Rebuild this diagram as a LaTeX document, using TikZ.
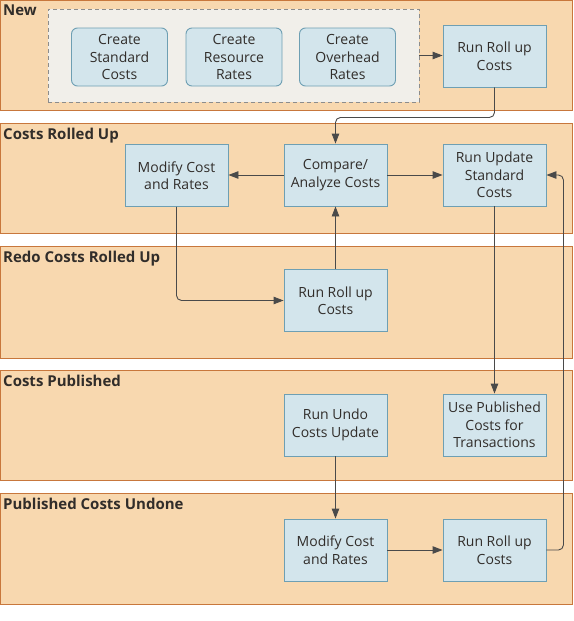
\documentclass[tikz,border=0pt]{standalone}
\usepackage{fontspec}
\setmainfont{Open Sans}
\usetikzlibrary{arrows.meta}

\definecolor{lanefill}{HTML}{F8D8AF}
\definecolor{laneline}{HTML}{C8773C}
\definecolor{boxfill}{HTML}{D3E5EC}
\definecolor{boxline}{HTML}{6E9FB3}
\definecolor{groupfill}{HTML}{F1EFEA}
\definecolor{groupline}{HTML}{8C8C8C}
\definecolor{inkgray}{HTML}{312D2A}
\definecolor{flowgray}{HTML}{4A4A4A}

\tikzset{
	lane/.style={draw=laneline, fill=lanefill, line width=0.9pt},
	lanetitle/.style={anchor=north west, inner sep=0pt, font=\fontsize{15}{17}\selectfont\bfseries},
	taskbox/.style={draw=boxline, fill=boxfill, line width=0.9pt, align=center, minimum width=103pt, minimum height=62pt, inner sep=2pt},
	createbox/.style={taskbox, rounded corners=6pt, minimum width=96pt, minimum height=58pt},
	groupbox/.style={draw=groupline, fill=groupfill, dash pattern=on 4pt off 3pt, line width=0.8pt, minimum width=371pt, minimum height=93pt},
	flow/.style={draw=flowgray, line width=0.9pt, rounded corners=5pt, -{Triangle[length=10pt,width=7.5pt]}}
}

\begin{document}
\begin{tikzpicture}[x=1pt, y=-1pt, every node/.style={font=\fontsize{14}{17.5}\selectfont, text=inkgray}]
	\useasboundingbox (0,0) rectangle (573,621);
	% swim lanes
	\draw[lane] (0,0) rectangle (572,110);
	\draw[lane] (0,123) rectangle (572,233);
	\draw[lane] (0,246) rectangle (572,358);
	\draw[lane] (0,370) rectangle (572,480);
	\draw[lane] (0,493) rectangle (572,604);
	\node[lanetitle] (tnew) at (3,5) {New};
	\node[lanetitle] (trolled) at (3,128) {Costs Rolled Up};
	\node[lanetitle] (tredo) at (3,251) {Redo Costs Rolled Up};
	\node[lanetitle] (tpub) at (3,375) {Costs Published};
	\node[lanetitle] (tundone) at (3,498) {Published Costs Undone};

	% new
	\node[groupbox] (group) at (233.5,55.5) {};
	\node[createbox] (cstd) at (119.5,57) {Create\\Standard\\Costs};
	\node[createbox] (cres) at (234,57) {Create\\Resource\\Rates};
	\node[createbox] (cover) at (347.5,57) {Create\\Overhead\\Rates};
	\node[taskbox] (roll1) at (494.5,56) {Run Roll up\\Costs};

	% costs rolled up
	\node[taskbox] (modify2) at (176.5,175.5) {Modify Cost\\and Rates};
	\node[taskbox] (compare) at (335.5,175) {Compare/\\Analyze Costs};
	\node[taskbox] (update) at (494.5,175) {Run Update\\Standard\\Costs};

	% redo costs rolled up
	\node[taskbox] (roll3) at (335.5,300.5) {Run Roll up\\Costs};

	% costs published
	\node[taskbox] (undo) at (335.5,425) {Run Undo\\Costs Update};
	\node[taskbox] (usepub) at (494.5,425) {Use Published\\Costs for\\Transactions};

	% published costs undone
	\node[taskbox] (modify5) at (335.5,550) {Modify Cost\\and Rates};
	\node[taskbox] (roll5) at (494.5,550) {Run Roll up\\Costs};

	% connectors
	\draw[flow] (group.east) -- (roll1.west |- group.east);
	\draw[flow] (roll1.south) -- ++(0,30) -| (compare.north);
	\draw[flow] (compare.west) -- (modify2.east |- compare.west);
	\draw[flow] (compare.east) -- (update.west);
	\draw[flow] (modify2.south) |- (roll3.west);
	\draw[flow] (roll3.north) -- (compare.south);
	\draw[flow] (update.south) -- (usepub.north);
	\draw[flow] (undo.south) -- (modify5.north);
	\draw[flow] (modify5.east) -- (roll5.west);
	\draw[flow] (roll5.east) -- ++(17,0) |- (update.east);
\end{tikzpicture}
\end{document}
